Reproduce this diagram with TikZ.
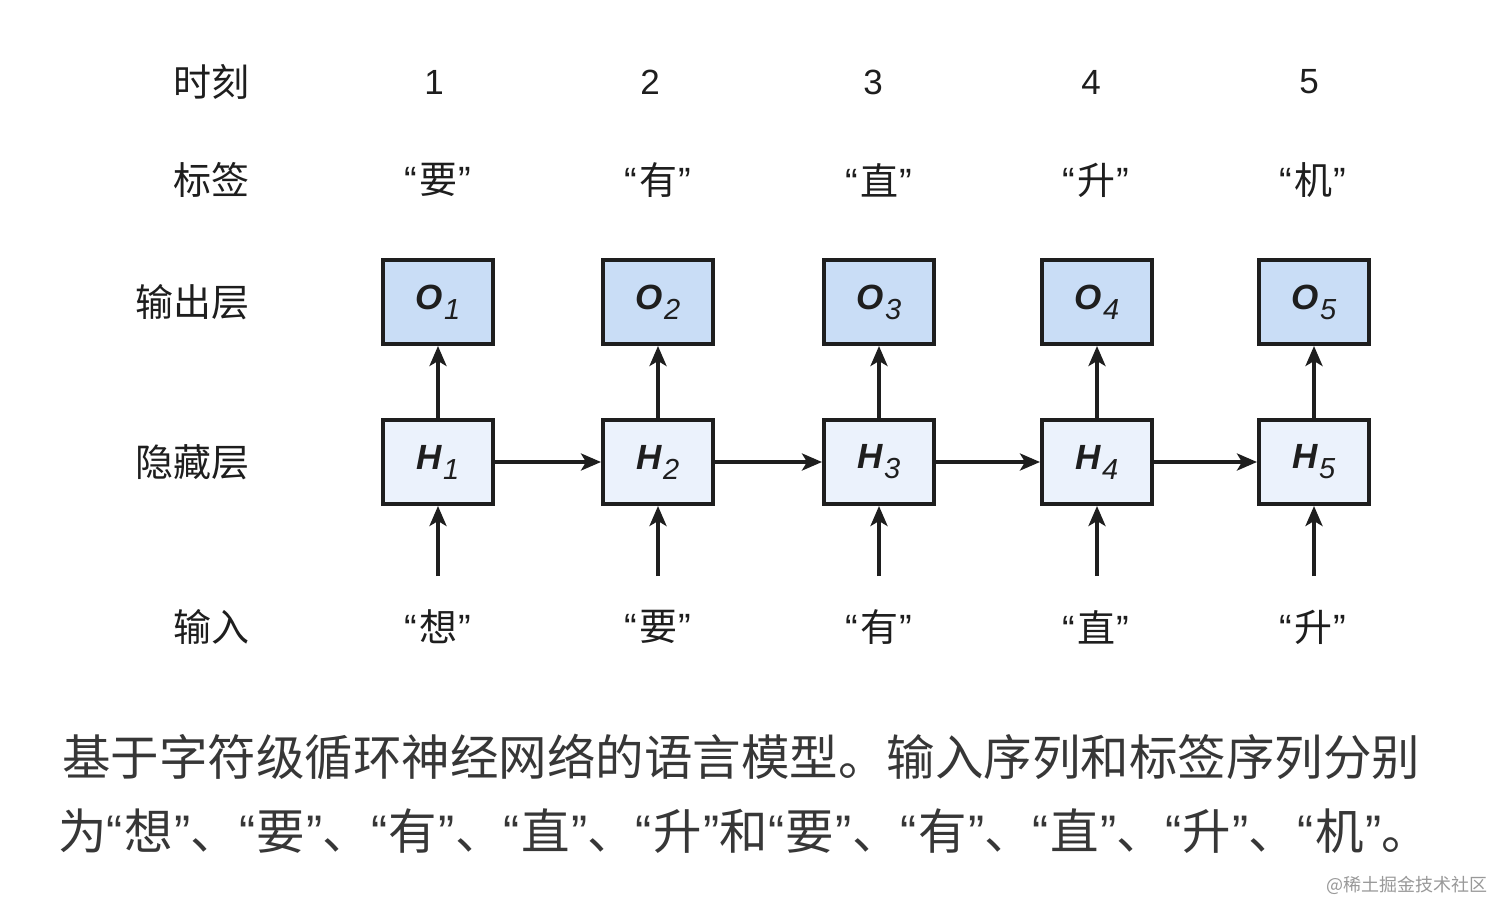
\documentclass[tikz,border=0pt]{standalone}
\usepackage{fontspec}
\newfontfamily\cjk{Noto Sans CJK SC}
\newfontfamily\lat{Liberation Sans}
\usetikzlibrary{arrows.meta,positioning}

\definecolor{outblue}{RGB}{201,221,246}
\definecolor{hidblue}{RGB}{235,242,252}
\definecolor{inkgray}{RGB}{30,30,30}
\definecolor{capgray}{RGB}{55,55,55}

\newcommand{\zq}[1]{{\lat“}\kern1.5pt#1\kern1.5pt{\lat”}}
\newcommand{\cellname}[2]{{\lat\bfseries\itshape #1}\kern1pt\raisebox{-10pt}{\lat\itshape\fontsize{29}{29}\selectfont #2}}

\begin{document}
\begin{tikzpicture}[x=1pt,y=-1pt,
    rowlabel/.style={anchor=east,inner sep=0,text=inkgray,font=\cjk\fontsize{38}{40}\selectfont},
    toplabel/.style={inner sep=0,text=inkgray,font=\cjk\fontsize{38}{40}\selectfont},
    timelabel/.style={inner sep=0,text=inkgray,font=\lat\fontsize{35}{40}\selectfont},
    cellbox/.style={draw=inkgray,line width=4pt,minimum width=110pt,minimum height=84pt,inner sep=0,
        text=inkgray,font=\fontsize{35}{36}\selectfont},
    outbox/.style={cellbox,fill=outblue},
    hidbox/.style={cellbox,fill=hidblue},
    flow/.style={draw=inkgray,line width=3.5pt,-{Stealth[length=20pt,width=17pt,inset=5pt]}},
    captionline/.style={anchor=west,inner sep=0,text=capgray,font=\cjk\fontsize{48.5}{52}\selectfont}]

\useasboundingbox (0,0) rectangle (1512,920);
\fill[white] (0,0) rectangle (1512,920);

% row names
\node[rowlabel] (rtime) at (250,82) {时刻};
\node[rowlabel] (rlabel) at (250,180) {标签};
\node[rowlabel] (rout) at (250,302) {输出层};
\node[rowlabel] (rhid) at (250,462) {隐藏层};
\node[rowlabel] (rin) at (250,627) {输入};

% time steps
\node[timelabel] (t1) at (434,82) {1};
\node[timelabel] (t2) at (650,82) {2};
\node[timelabel] (t3) at (873,82) {3};
\node[timelabel] (t4) at (1091,82) {4};
\node[timelabel] (t5) at (1309,82) {5};

% labels
\node[toplabel] (y1) at (438,180) {\zq{要}};
\node[toplabel] (y2) at (658,180) {\zq{有}};
\node[toplabel] (y3) at (879,180) {\zq{直}};
\node[toplabel] (y4) at (1096,180) {\zq{升}};
\node[toplabel] (y5) at (1313,180) {\zq{机}};

% output layer
\node[outbox] (o1) at (438,302) {\cellname{O}{1}};
\node[outbox] (o2) at (658,302) {\cellname{O}{2}};
\node[outbox] (o3) at (879,302) {\cellname{O}{3}};
\node[outbox] (o4) at (1097,302) {\cellname{O}{4}};
\node[outbox] (o5) at (1314,302) {\cellname{O}{5}};

% hidden layer
\node[hidbox] (h1) at (438,462) {\cellname{H}{1}};
\node[hidbox] (h2) at (658,462) {\cellname{H}{2}};
\node[hidbox] (h3) at (879,462) {\cellname{H}{3}};
\node[hidbox] (h4) at (1097,462) {\cellname{H}{4}};
\node[hidbox] (h5) at (1314,462) {\cellname{H}{5}};

% inputs
\node[toplabel] (x1) at (438,627) {\zq{想}};
\node[toplabel] (x2) at (658,627) {\zq{要}};
\node[toplabel] (x3) at (879,627) {\zq{有}};
\node[toplabel] (x4) at (1096,627) {\zq{直}};
\node[toplabel] (x5) at (1313,627) {\zq{升}};

\coordinate (a1) at (438,576);
\coordinate (a2) at (658,576);
\coordinate (a3) at (879,576);
\coordinate (a4) at (1097,576);
\coordinate (a5) at (1314,576);

\draw[flow] (a1) -- (h1);
\draw[flow] (a2) -- (h2);
\draw[flow] (a3) -- (h3);
\draw[flow] (a4) -- (h4);
\draw[flow] (a5) -- (h5);

\draw[flow] (h1) -- (o1);
\draw[flow] (h2) -- (o2);
\draw[flow] (h3) -- (o3);
\draw[flow] (h4) -- (o4);
\draw[flow] (h5) -- (o5);

\draw[flow] (h1) -- (h2);
\draw[flow] (h2) -- (h3);
\draw[flow] (h3) -- (h4);
\draw[flow] (h4) -- (h5);

% caption
\node[captionline] (cap1) at (62,757) {基于字符级循环神经网络的语言模型。输入序列和标签序列分别};
\node[captionline] (cap2) at (58,831) {为\zq{想}、\zq{要}、\zq{有}、\zq{直}、\zq{升}和\zq{要}、\zq{有}、\zq{直}、\zq{升}、\zq{机}。};

\node[anchor=east,inner sep=0,text=black!40,font=\cjk\fontsize{18}{20}\selectfont] (mark) at (1488,885) {@稀土掘金技术社区};

\end{tikzpicture}
\end{document}
